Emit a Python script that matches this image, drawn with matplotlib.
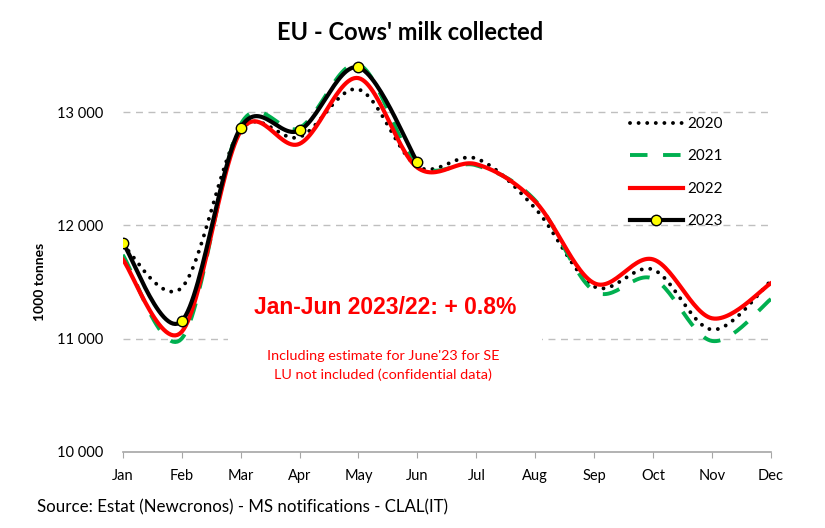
import numpy as np
import matplotlib.pyplot as plt
from matplotlib.patches import Rectangle

months = ['Jan', 'Feb', 'Mar', 'Apr', 'May', 'Jun', 'Jul', 'Aug', 'Sep', 'Oct', 'Nov', 'Dec']
y2020 = [11830, 11450, 12840, 12780, 13200, 12520, 12590, 12150, 11460, 11610, 11080, 11510]
y2021 = [11740, 11000, 12890, 12860, 13420, 12540, 12530, 12220, 11420, 11530, 10980, 11350]
y2022 = [11700, 11060, 12830, 12720, 13300, 12510, 12540, 12210, 11490, 11700, 11180, 11490]
y2023 = [11847, 11155, 12862, 12838, 13394, 12559]


def smooth(vals, n=30):
    # excel-like smoothed line (catmull-rom bezier)
    p = np.array(vals, dtype=float)
    x = np.arange(len(p), dtype=float)
    pp = np.concatenate([[p[0]], p, [p[-1]]])
    xx = np.concatenate([[x[0]], x, [x[-1]]])
    xs, ys = [], []
    t = np.linspace(0, 1, n)
    for i in range(len(p) - 1):
        x0, x1, x2, x3 = xx[i:i + 4]
        y0, y1, y2, y3 = pp[i:i + 4]
        cx = [x1, x1 + (x2 - x0) / 6, x2 - (x3 - x1) / 6, x2]
        cy = [y1, y1 + (y2 - y0) / 6, y2 - (y3 - y1) / 6, y2]
        b = [(1 - t) ** 3, 3 * t * (1 - t) ** 2, 3 * t ** 2 * (1 - t), t ** 3]
        xs.append(sum(bi * ci for bi, ci in zip(b, cx)))
        ys.append(sum(bi * ci for bi, ci in zip(b, cy)))
    return np.concatenate(xs), np.concatenate(ys)


plt.rcParams['font.family'] = 'Lato'
fig = plt.figure(figsize=(8.25, 5.28), dpi=100)
ax = fig.add_axes([122.7 / 825, 1 - 452 / 528, (771 - 122.7) / 825, 3.5 * 113.3 / 528])

x, y = smooth(y2020)
ax.plot(x, y, color='black', lw=2.8, linestyle=(0, (0.01, 2.2)),
        dash_capstyle='round', label='2020', zorder=3)
x, y = smooth(y2021)
ax.plot(x, y, color='#00B050', lw=2.8, linestyle=(0, (4.5, 4.0)), label='2021', zorder=3)
x, y = smooth(y2022)
ax.plot(x, y, color='#FF0000', lw=3, label='2022', zorder=4)
x, y = smooth(y2023)
ax.plot(x, y, color='black', lw=3, zorder=5)
ax.plot(np.arange(len(y2023)), y2023, 'o', color='#FFFF00', mec='black', mew=1,
        ms=7.5, zorder=6)
ax.plot([], [], color='black', lw=3, marker='o', mfc='#FFFF00', mec='black',
        mew=1, ms=7.5, label='2023')

ax.set_xlim(0, 11)
ax.set_ylim(10000, 13500)
ax.set_xticks(range(12))
ax.set_xticklabels(months, fontsize=10.5)
ax.set_yticks([10000, 11000, 12000, 13000])
ax.set_yticklabels(['10 000', '11 000', '12 000', '13 000'], fontsize=10.5)
ax.tick_params(axis='y', length=0, pad=14)
ax.tick_params(axis='x', length=4, color='#A6A6A6', pad=8, direction='out')
for s in ['top', 'right', 'left']:
    ax.spines[s].set_visible(False)
ax.spines['bottom'].set_color('#A6A6A6')
ax.spines['bottom'].set_linewidth(1.2)
ax.set_axisbelow(True)
for v in [11000, 12000, 13000]:
    ax.axhline(v, color='#BFBFBF', lw=1, linestyle=(0, (5, 4)), zorder=0.5)

ax.add_patch(Rectangle((228 / 825, 1 - 390 / 528), (542 - 228) / 825, 105 / 528,
                       transform=fig.transFigure, facecolor='white',
                       edgecolor='none', zorder=1))

ax.legend(loc='upper left', bbox_to_anchor=(630 / 825, 1 - 117 / 528),
          bbox_transform=fig.transFigure, frameon=False, fontsize=11,
          borderpad=0, borderaxespad=0, handlelength=3.45,
          handletextpad=0.33, labelspacing=1.21)

fig.text(410 / 825, 1 - 32 / 528, "EU - Cows' milk collected", ha='center',
         va='center', fontsize=17, fontweight='bold')
fig.text(40 / 825, 1 - 282 / 528, '1000 tonnes', rotation=90, ha='center',
         va='center', fontsize=10, fontweight='bold')
fig.text(385 / 825, 1 - 308 / 528, 'Jan-Jun 2023/22: + 0.8%', ha='center',
         va='center', fontsize=16.5, fontweight='bold', color='#FF0000',
         family='Liberation Sans')
fig.text(383 / 825, 1 - 356 / 528, "Including estimate for June'23 for SE",
         ha='center', va='center', fontsize=10.4, color='#FF0000')
fig.text(383 / 825, 1 - 375 / 528, 'LU not included (confidential data)',
         ha='center', va='center', fontsize=10.4, color='#FF0000')
fig.text(37 / 825, 1 - 507 / 528, 'Source: Estat (Newcronos) - MS notifications - CLAL(IT)',
         ha='left', va='center', fontsize=12.2)

fig.savefig('out.png', dpi=100)
